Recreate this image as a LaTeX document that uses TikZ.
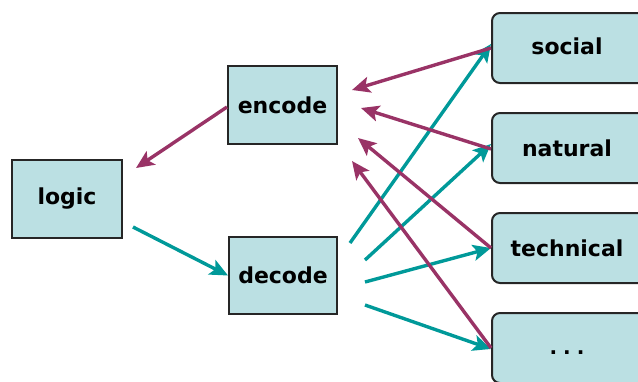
\documentclass[tikz,border=0pt]{standalone}
\usepackage{fontspec}
\setmainfont{DejaVu Sans}
\usetikzlibrary{arrows.meta}
\definecolor{boxfill}{HTML}{BBE0E3}
\definecolor{pur}{HTML}{993366}
\definecolor{teal2}{HTML}{009999}
\begin{document}
\begin{tikzpicture}[x=1pt,y=-1pt,
  lbl/.style={font=\fontsize{22}{25}\selectfont\bfseries},
  sqbox/.style={draw=black!85, line width=2pt, fill=boxfill, inner sep=0pt, lbl},
  rbox/.style={sqbox, rounded corners=8pt, minimum width=160pt, minimum height=70pt},
  purarr/.style={draw=pur, line width=3.4pt, -{Stealth[length=18pt,width=16pt,inset=4pt]}},
  tealarr/.style={draw=teal2, line width=3.4pt, -{Stealth[length=18pt,width=16pt,inset=4pt]}}]
\useasboundingbox (0,0) rectangle (638,381);
\clip (0,0) rectangle (638,381);
% boxes
\node[sqbox, minimum width=110pt, minimum height=78pt] (logic) at (67,198.5) {logic};
\node[sqbox, minimum width=109pt, minimum height=78pt] (encode) at (282.5,105) {encode};
\node[sqbox, minimum width=108pt, minimum height=77pt] (decode) at (283,275.5) {decode};
\node[rbox] (social) at (572,48) {};
\node[rbox] (natural) at (572,148) {};
\node[rbox] (technical) at (572,248) {};
\node[rbox] (dots) at (572,348) {};
\node[lbl] (tsocial) at (567,46) {social};
\node[lbl] (tnatural) at (567,148) {natural};
\node[lbl] (ttechnical) at (567,248) {technical};
\node[lbl, font=\fontsize{20}{22}\selectfont\bfseries] (tdots) at (567,353) {.\hspace{6pt}.\hspace{6pt}.};
% free ends
\coordinate (lin) at (136,168);
\coordinate (lout) at (133,227);
\coordinate (e1) at (352,90);
\coordinate (e2) at (361,108);
\coordinate (e3) at (358,138);
\coordinate (e4) at (352,161);
\coordinate (d1) at (350,243);
\coordinate (d2) at (365,260);
\coordinate (d3) at (365,282);
\coordinate (d4) at (365,305);
% connectors
\draw[purarr] ([yshift=-2pt]encode.west) -- (lin);
\draw[tealarr] (lout) -- (decode.west);
\draw[tealarr] (d1) -- ([yshift=4pt]social.west);
\draw[tealarr] (d2) -- ([yshift=4pt]natural.west);
\draw[tealarr] (d3) -- (technical.west);
\draw[tealarr] (d4) -- ([yshift=-1pt]dots.west);
\draw[purarr] (social.west) -- (e1);
\draw[purarr] ([yshift=-1pt]natural.west) -- (e2);
\draw[purarr] (technical.west) -- (e3);
\draw[purarr] (dots.west) -- (e4);
\end{tikzpicture}
\end{document}
